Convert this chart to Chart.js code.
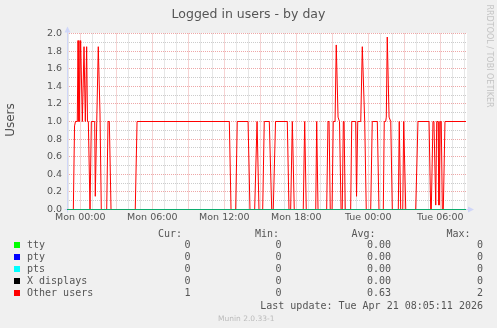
<!DOCTYPE html>
<html><head><meta charset="utf-8">
<script src="https://cdn.jsdelivr.net/npm/chart.js@4/dist/chart.umd.min.js"></script>
<style>
html,body{margin:0;padding:0;background:#f0f0f0;}
#wrap{position:relative;width:497px;height:328px;overflow:hidden;font-family:"DejaVu Sans",sans-serif;color:#555;}
#c{position:absolute;left:0;top:0;}
.t{position:absolute;white-space:pre;line-height:1;}
.mono{font-family:"DejaVu Sans Mono",monospace;font-size:10px;color:#555;}
.sq{position:absolute;width:6px;height:6px;}
</style></head>
<body><div id="wrap"><canvas id="c" width="497" height="328"></canvas></div>
<script>
// ---- data ----
const titleText = 'Logged in users - by day';
const yAxisTitle = 'Users';
// hours relative to Mon 00:00
const hours = [-1.11,-0.58,-0.48,-0.40,-0.25,-0.19,-0.11,0.03,0.17,0.31,
 0.42,0.53,0.60,0.67,0.81,0.92,1.20,1.25,1.37,1.50,
 1.64,1.75,2.20,2.31,2.42,2.56,4.58,4.73,12.42,12.56,
 12.95,13.08,13.98,14.14,14.53,14.73,14.89,15.20,15.33,15.75,
 15.95,16.08,16.27,17.25,17.39,17.53,17.67,17.83,18.58,18.70,
 18.83,19.62,19.70,19.81,20.53,20.64,20.73,20.83,20.98,21.08,
 21.23,21.33,21.48,21.60,21.73,21.83,21.92,21.98,22.08,22.53,
 22.62,22.95,23.02,23.12,23.37,23.50,23.70,23.83,24.20,24.33,
 24.75,24.89,25.25,25.33,25.45,25.50,25.58,25.73,25.87,26.00,
 26.50,26.58,26.70,26.87,26.95,27.12,27.95,28.14,29.06,29.20,
 29.25,29.39,29.47,29.62,29.70,29.81,29.89,30.00,30.08,30.17,
 30.25,30.39,32.14];
const otherUsers = [0,0,0.95,1.0,1.0,1.92,1.0,1.92,1.0,1.85,
 1.0,1.85,1.0,1.0,0,1.0,1.0,0.15,1.0,1.85,
 1.1,0,0,1.0,1.0,0,0,1.0,1.0,0,
 0,1.0,1.0,0,0,1.0,0,0,1.0,1.0,
 0,0,1.0,1.0,0,0,1.0,0,0,1.0,
 0,0,1.0,0,0,1.0,1.0,0,0,1.0,
 1.0,1.87,1.05,1.0,0,0,1.0,1.0,0,0,
 1.0,1.0,0.15,1.0,1.0,1.85,1.0,0,0,1.0,
 1.0,0,0,1.0,1.0,1.05,1.96,1.05,1.0,0,
 0,1.0,0,0,1.0,0,0,1.0,1.0,0,
 0,1.0,1.0,0.05,1.0,1.0,0.05,1.0,1.0,0,
 0,1.0,1.0];
const flatHours = [-1.11, 32.14];
const tty = [0, 0];
const pty = [0, 0];
const pts = [0, 0];
const xDisplays = [0, 0];
const seriesNames = ['tty','pty','pts','X displays','Other users'];
const curValues = ['0','0','0','0','1'];
const minValues = ['0','0','0','0','0'];
const avgValues = ['0.00','0.00','0.00','0.00','0.63'];
const maxValues = ['0','0','0','0','2'];
const xLabelHours = [0, 6, 12, 18, 24, 30];
const xLabelTexts = ['Mon 00:00','Mon 06:00','Mon 12:00','Mon 18:00','Tue 00:00','Tue 06:00'];
const lastUpdate = 'Last update: Tue Apr 21 08:05:11 2026';
const xMin = -1.108, xMax = 32.225;

// ---- styles ----
const seriesColors = ['#00ff00','#0000ff','#00ffff','#000000','#ff0000'];
const MINOR = 'rgba(143,143,143,0.45)';
const MAJOR = 'rgba(222,79,79,0.5)';
const AXIS = '#cfd6f8';

const wrap = document.getElementById('wrap');
function addText(txt, css, cls){
  const d = document.createElement('div');
  d.className = 't ' + (cls||'');
  d.textContent = txt;
  Object.assign(d.style, css);
  wrap.appendChild(d);
  return d;
}
addText(titleText, {left:'0px', width:'497px', textAlign:'center', top:'7.5px', fontSize:'12.5px', color:'#555'});
addText(yAxisTitle, {left:'-20px', top:'113px', width:'60px', height:'14px', lineHeight:'14px', textAlign:'center', fontSize:'12px', color:'#555', transform:'rotate(-90deg)'});
addText('RRDTOOL / TOBI OETIKER', {left:'429px', top:'51px', width:'120px', height:'10px', lineHeight:'10px', textAlign:'center', fontSize:'8px', color:'#c4c4c4', transform:'rotate(90deg)'});
addText('Munin 2.0.33-1', {left:'218px', top:'314.5px', fontSize:'7.5px', color:'#bbb'});

const rowY = [245, 257, 269, 281, 293];
addText('Cur:', {left:'158px', top:(233.5-5)+'px'}, 'mono');
addText('Min:', {left:'255px', top:(233.5-5)+'px'}, 'mono');
addText('Avg:', {left:'351.5px', top:(233.5-5)+'px'}, 'mono');
addText('Max:', {left:'446.5px', top:(233.5-5)+'px'}, 'mono');
seriesNames.forEach((n,i)=>{
  const y = rowY[i];
  const s = document.createElement('div');
  s.className='sq'; s.style.left='14px'; s.style.top=(y-3)+'px'; s.style.background=seriesColors[i];
  wrap.appendChild(s);
  addText(n, {left:'27px', top:(y-5)+'px'}, 'mono');
  addText(curValues[i], {right:(497-190.5)+'px', top:(y-5)+'px'}, 'mono');
  addText(minValues[i], {right:(497-281.5)+'px', top:(y-5)+'px'}, 'mono');
  addText(avgValues[i], {right:(497-391)+'px', top:(y-5)+'px'}, 'mono');
  addText(maxValues[i], {right:(497-483)+'px', top:(y-5)+'px'}, 'mono');
});
addText(lastUpdate, {right:(497-483)+'px', top:(305.5-5)+'px'}, 'mono');

const bgPlugin = {
  id:'bg',
  beforeDraw(chart){
    const {ctx, chartArea:a} = chart;
    ctx.save(); ctx.fillStyle='#fff';
    ctx.fillRect(Math.floor(a.left), Math.floor(a.top), Math.round(a.right-a.left), Math.ceil(a.bottom-a.top));
    ctx.restore();
  },
  beforeDatasetsDraw(chart){
    const {ctx, chartArea:a} = chart;
    ctx.save();
    ctx.strokeStyle = AXIS; ctx.fillStyle = AXIS; ctx.lineWidth = 1;
    const x0 = Math.floor(a.left)+0.5, y0 = Math.floor(a.bottom)+0.5;
    ctx.beginPath(); ctx.moveTo(x0, y0+3); ctx.lineTo(x0, a.top-3); ctx.stroke();
    ctx.beginPath(); ctx.moveTo(x0-3, y0); ctx.lineTo(a.right+3, y0); ctx.stroke();
    ctx.beginPath(); ctx.moveTo(x0-3, a.top-1); ctx.lineTo(x0+3, a.top-1); ctx.lineTo(x0, a.top-7); ctx.closePath(); ctx.fill();
    ctx.beginPath(); ctx.moveTo(a.right+1, y0-3); ctx.lineTo(a.right+1, y0+3); ctx.lineTo(a.right+7, y0); ctx.closePath(); ctx.fill();
    ctx.restore();
  }
};

function pts2(xs, ys){ return xs.map((x,i)=>({x:x, y:ys[i]})); }
function ds(label, xs, ys, color){
  return {label, data: pts2(xs, ys), borderColor: color, borderWidth: 1, pointRadius: 0, tension: 0, fill: false};
}
const isMajorY = v => Math.round(v*10) % 2 === 0;

new Chart(document.getElementById('c'), {
  type: 'line',
  data: { datasets: [
    ds(seriesNames[0], flatHours, tty, seriesColors[0]),
    ds(seriesNames[1], flatHours, pty, seriesColors[1]),
    ds(seriesNames[2], flatHours, pts, seriesColors[2]),
    ds(seriesNames[3], flatHours, xDisplays, seriesColors[3]),
    ds(seriesNames[4], hours, otherUsers, seriesColors[4])
  ]},
  options: {
    responsive: false, animation: false, devicePixelRatio: 1,
    layout: { padding: { top: 33.5, right: 30, left: 0, bottom: 0 } },
    plugins: { legend: { display: false }, tooltip: { enabled: false }, title: { display: false } },
    scales: {
      x: {
        type: 'linear', min: xMin, max: xMax,
        afterFit(s){ s.height = 118.5; },
        ticks: {
          stepSize: 1, includeBounds: false, autoSkip: false, maxRotation: 0, minRotation: 0,
          padding: 2, color: '#555', font: { family: 'DejaVu Sans', size: 9.5 },
          callback(v){ const i = xLabelHours.indexOf(Math.round(v)); return (i >= 0 && Math.abs(v-Math.round(v))<1e-6) ? xLabelTexts[i] : ''; }
        },
        grid: { drawTicks: false, lineWidth: 1, color(c){ const v = Math.round(c.tick.value); return ((v % 3) + 3) % 3 === 0 ? MAJOR : MINOR; } },
        border: { display: false, dash: [1, 1] }
      },
      y: {
        min: 0, max: 2,
        afterFit(s){ s.width = 67; },
        ticks: {
          stepSize: 0.1, autoSkip: false, padding: 5, color: '#555', font: { family: 'DejaVu Sans', size: 9.5 },
          callback(v){ return isMajorY(v) ? (Math.round(v*10)/10).toFixed(1) : ''; }
        },
        grid: { drawTicks: false, lineWidth: 1, color(c){ return isMajorY(c.tick.value) ? MAJOR : MINOR; } },
        border: { display: false, dash: [1, 1] }
      }
    }
  },
  plugins: [bgPlugin]
});
</script></body></html>
